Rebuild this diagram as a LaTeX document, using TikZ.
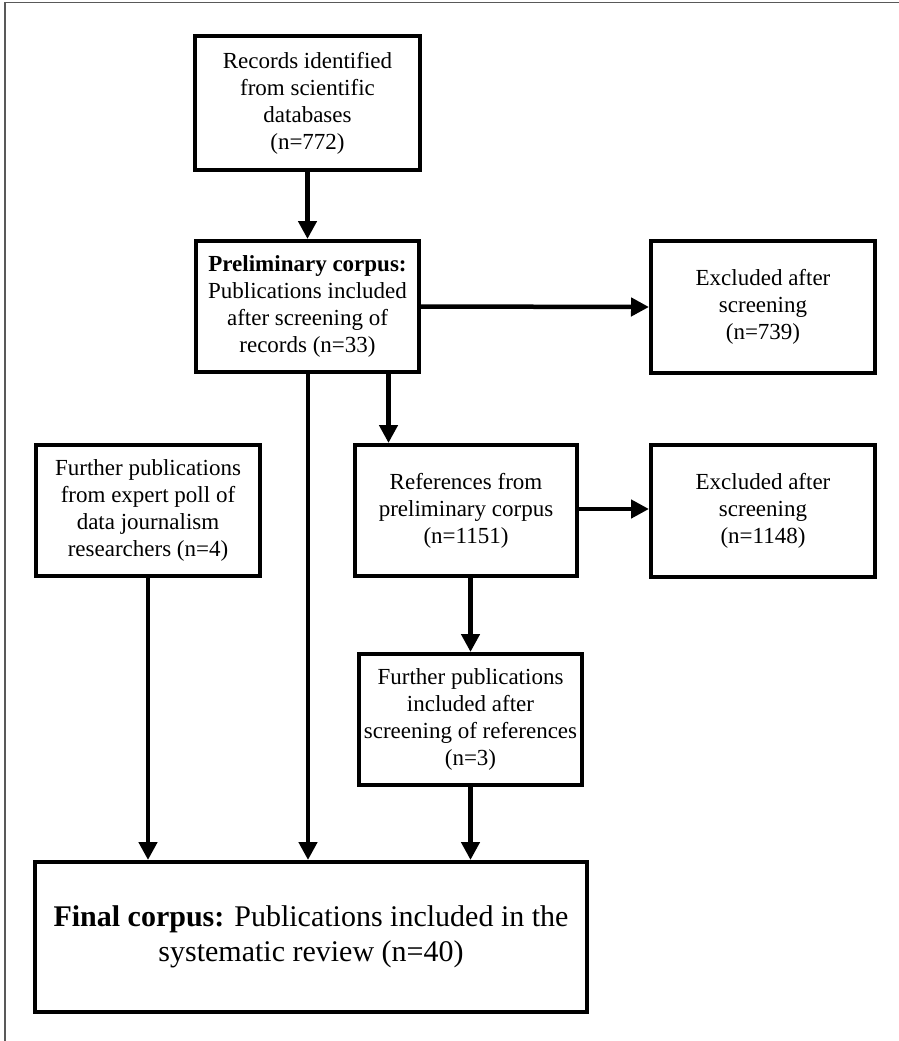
\documentclass[tikz,border=0pt]{standalone}
\usepackage{fontspec}
\setmainfont{Liberation Serif}
\usetikzlibrary{arrows.meta,positioning}
\tikzset{
  box/.style={draw=black, line width=4pt, fill=white, align=center, inner sep=2pt,
              font=\fontsize{23}{27}\selectfont},
  finalbox/.style={box, font=\fontsize{30}{35}\selectfont},
  arr/.style={line width=4.5pt, -{Triangle[length=18pt,width=18pt]}},
  frame/.style={draw=black!65, line width=1.8pt}
}
\begin{document}
\begin{tikzpicture}[x=1pt,y=-1pt]
\useasboundingbox (0,0) rectangle (899,1041);
\draw[frame] (5,1041) -- (5,2.5) -- (899,2.5);

\node[box, minimum width=225pt, minimum height=134pt] (rec) at (307.5,103)
  {Records identified\\from scientific\\databases\\(n=772)};
\node[box, minimum width=223pt, minimum height=131pt] (pre) at (307.5,306.5)
  {\textbf{Preliminary corpus:}\\Publications included\\after screening of\\records (n=33)};
\node[box, minimum width=224pt, minimum height=132pt] (ex1) at (763,307)
  {Excluded after\\screening\\(n=739)};
\node[box, minimum width=224pt, minimum height=131pt] (exp) at (148,510.5)
  {Further publications\\from expert poll of\\data journalism\\researchers (n=4)};
\node[box, minimum width=222pt, minimum height=131pt] (ref) at (466,510.5)
  {References from\\preliminary corpus\\(n=1151)};
\node[box, minimum width=224pt, minimum height=132pt] (ex2) at (763,511)
  {Excluded after\\screening\\(n=1148)};
\node[box, minimum width=223pt, minimum height=131pt] (fur) at (470.5,719.5)
  {Further publications\\included after\\screening of references\\(n=3)};
\node[finalbox, minimum width=552pt, minimum height=150pt] (fin) at (311,937)
  {\textbf{Final corpus:} Publications included in the\\systematic review (n=40)};

\coordinate (preR) at ([xshift=81pt]pre.south);
\coordinate (preF) at ([xshift=0.5pt]pre.south);

\draw[arr] (rec.south) -- (pre.north);
\draw[arr] (pre.east) -- (ex1.west);
\draw[arr] (preF) -- (preF |- fin.north);
\draw[arr] (preR) -- (preR |- ref.north);
\draw[arr] ([yshift=1.5pt]ref.east) -- ([yshift=1.5pt]ref.east -| ex2.west);
\draw[arr] (fur.north |- ref.south) -- (fur.north);
\draw[arr] (fur.south) -- (fur.south |- fin.north);
\draw[arr] (exp.south) -- (exp.south |- fin.north);
\end{tikzpicture}
\end{document}
